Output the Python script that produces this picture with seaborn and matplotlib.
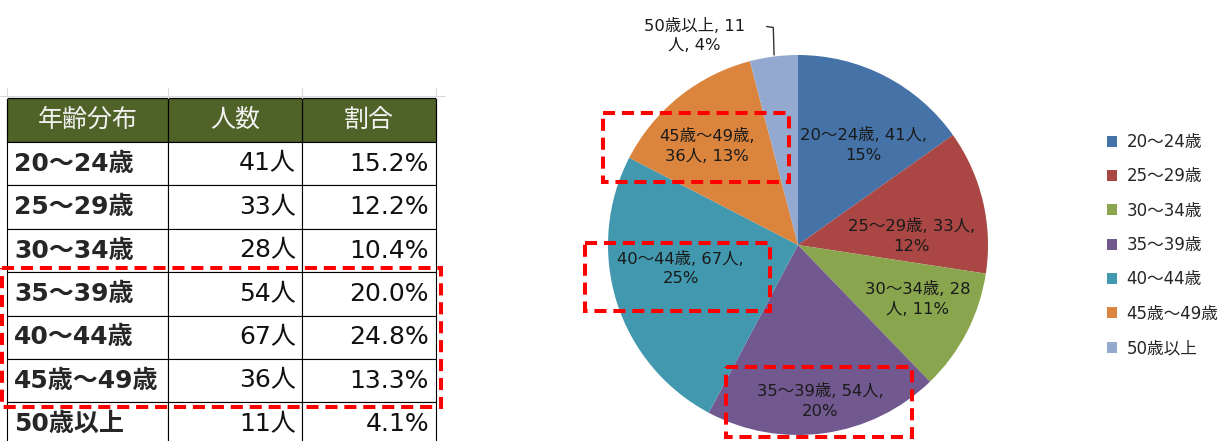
import matplotlib
matplotlib.use("Agg")
import matplotlib.pyplot as plt
from matplotlib.patches import Rectangle
import numpy as np
import seaborn as sns

# データ
age_groups = ['20～24歳', '25～29歳', '30～34歳', '35～39歳', '40～44歳', '45歳～49歳', '50歳以上']
counts = [41, 33, 28, 54, 67, 36, 11]
shares = [15.2, 12.2, 10.4, 20.0, 24.8, 13.3, 4.1]
pie_pct = [15, 12, 11, 20, 25, 13, 4]
header = ['年齢分布', '人数', '割合']
highlight = ['35～39歳', '40～44歳', '45歳～49歳']

# 円グラフのラベル（改行位置は元図どおり）
pie_labels = [
    f'20～24歳, {counts[0]}人,\n{pie_pct[0]}%',
    f'25～29歳, {counts[1]}人,\n{pie_pct[1]}%',
    f'30～34歳, {counts[2]}\n人, {pie_pct[2]}%',
    f'35～39歳, {counts[3]}人,\n{pie_pct[3]}%',
    f'40～44歳, {counts[4]}人,\n{pie_pct[4]}%',
    f'45歳～49歳,\n{counts[5]}人, {pie_pct[5]}%',
    f'50歳以上, {counts[6]}\n人, {pie_pct[6]}%',
]
colors = ['#4572A7', '#AA4643', '#89A54E', '#71588F', '#4198AF', '#DB843D', '#93A9CF']

sns.set_style("white")
# 数字は幅の広い DejaVu、漢字は Noto CJK にフォールバック
plt.rcParams['font.family'] = ['DejaVu Sans', 'Noto Sans CJK JP']

W, H = 1228, 441
fig = plt.figure(figsize=(W / 100, H / 100), dpi=100)

# ピクセル座標のオーバーレイ
base = fig.add_axes([0, 0, 1, 1])
base.set_xlim(0, W)
base.set_ylim(H, 0)
base.axis('off')
base.set_zorder(5)
base.patch.set_visible(False)

# 1. 表
col_x = [7, 168, 302, 436]
top = 98
head_h = 44
row_h = 43.4

# うっすらとしたセルの枠線
base.plot([0, 445], [top - 2, top - 2], color='#d9d9d9', lw=0.8)
for x in col_x:
    base.plot([x, x], [88, top], color='#d9d9d9', lw=0.8)

base.add_patch(Rectangle((col_x[0], top), col_x[-1] - col_x[0], head_h,
                         facecolor='#4F6228', edgecolor='black', lw=0.8))
for j, h in enumerate(header):
    base.add_patch(Rectangle((col_x[j], top), col_x[j + 1] - col_x[j], head_h,
                             facecolor='none', edgecolor='black', lw=0.8))
    base.text((col_x[j] + col_x[j + 1]) / 2, top + head_h / 2, h, color='#F2F2F2',
              fontsize=18, ha='center', va='center')

for i, (g, c, s) in enumerate(zip(age_groups, counts, shares)):
    y0 = top + head_h + i * row_h
    for j in range(3):
        base.add_patch(Rectangle((col_x[j], y0), col_x[j + 1] - col_x[j], row_h,
                                 facecolor='white', edgecolor='black', lw=0.8))
    yc = y0 + row_h / 2
    base.text(col_x[0] + 7, yc, g, fontsize=18, fontweight='bold', ha='left', va='center')
    base.text(col_x[2] - 6, yc, f'{c}人', fontsize=18, ha='right', va='center', color='#111')
    base.text(col_x[3] - 7, yc, f'{s:.1f}%', fontsize=18, ha='right', va='center', color='#111')

# 表の強調枠
first = age_groups.index(highlight[0])
last = age_groups.index(highlight[-1])
y_a = top + head_h + first * row_h - 4
y_b = top + head_h + (last + 1) * row_h + 5
dash = dict(fill=False, edgecolor='#FF0000', lw=2.9, ls=(0, (3, 1.7)))
base.add_patch(Rectangle((2, y_a), 439, y_b - y_a, **dash))

# 2. 円グラフ
cx, cy, r = 798, 245, 190
ax = fig.add_axes([(cx - r) / W, (H - cy - r) / H, 2 * r / W, 2 * r / H])
wedges, _ = ax.pie(counts, colors=colors, startangle=90, counterclock=False,
                   wedgeprops=dict(linewidth=0))
ax.set_xlim(-1, 1)
ax.set_ylim(-1, 1)

label_r = [0.63, 0.60, 0.69, 0.83, 0.63, 0.71, 1.23]
label_shift = [-6, -9, 3, 0, -6, 4, 19]
for w, lab, lr, sh in zip(wedges, pie_labels, label_r, label_shift):
    ang = np.deg2rad((w.theta1 + w.theta2) / 2 + sh)
    ax.text(lr * np.cos(ang), lr * np.sin(ang), lab, fontsize=11.8, ha='center',
            va='center', color='#1a1a1a', linespacing=1.4)

# 50歳以上の引き出し線
ax.plot([-0.126, -0.13, -0.165], [1.0, 1.145, 1.15], color='#333333', lw=1, clip_on=False)

# 円グラフ上の強調枠
for x0, y0, x1, y1 in [(603, 113, 789, 182), (585, 243, 770, 311), (726, 367, 912, 437)]:
    base.add_patch(Rectangle((x0, y0), x1 - x0, y1 - y0, **dash))

# 凡例
fig.legend(wedges, age_groups, loc='upper left', bbox_to_anchor=(1107 / W, 1 - 133 / H),
           frameon=False, fontsize=12, labelspacing=0.98, handlelength=0.62,
           handleheight=0.62, handletextpad=0.55, borderpad=0, borderaxespad=0)

fig.savefig('out.png', dpi=100)
